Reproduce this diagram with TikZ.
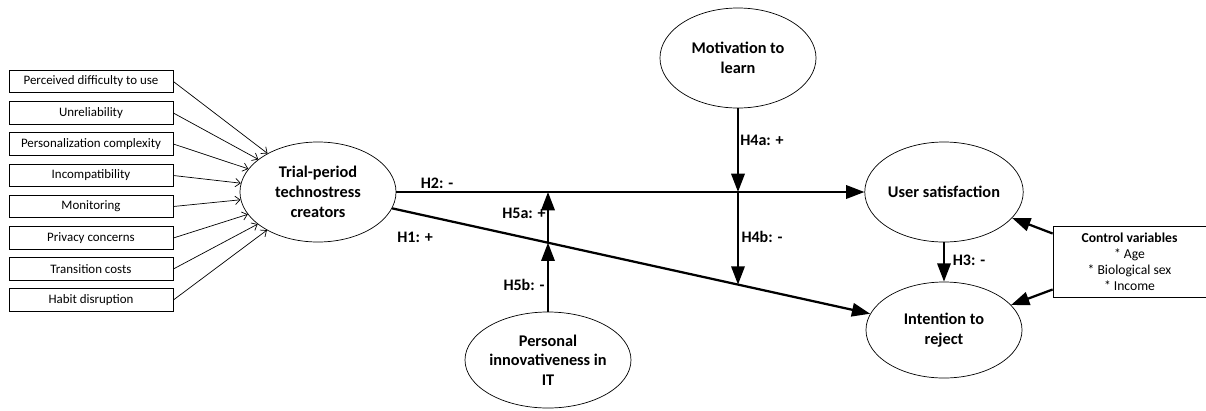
\documentclass[tikz,border=0pt]{standalone}
\usepackage{fontspec}
\setmainfont{Carlito}
\usetikzlibrary{arrows.meta,shapes.geometric}

\tikzset{
	factor/.style={shape=rectangle,draw=black,line width=0.5pt,minimum width=4.1cm,minimum height=0.56cm,inner sep=0pt,font=\fontsize{9.2}{10}\selectfont},
	construct/.style={shape=ellipse,draw=black,line width=0.5pt,minimum width=3.9cm,minimum height=2.5cm,inner sep=0pt,align=center,font=\fontsize{11.6}{14}\selectfont\bfseries},
	thin/.style={line width=0.5pt,-{Straight Barb[length=3.5pt,width=6pt]}},
	path/.style={line width=1.6pt,-{Triangle[length=13pt,width=9.5pt]}},
	hyp/.style={font=\fontsize{11.4}{12}\selectfont\bfseries,inner sep=0pt}
}

\begin{document}
\begin{tikzpicture}[x=0.025cm,y=-0.025cm]
		\useasboundingbox (0,0) rectangle (1206,410);
		% antecedents
		\node [factor] (F1) at (91,81.5) {Perceived difficulty to use};
		\node [factor] (F2) at (91,113) {Unreliability};
		\node [factor] (F3) at (91,144) {Personalization complexity};
		\node [factor] (F4) at (91,175.5) {Incompatibility};
		\node [factor] (F5) at (91,206.5) {Monitoring};
		\node [factor] (F6) at (91,238) {Privacy concerns};
		\node [factor] (F7) at (91,269) {Transition costs};
		\node [factor] (F8) at (91,300) {Habit disruption};
		% constructs
		\node [construct] (TP) at (318,192) {Trial-period\\technostress\\creators};
		\node [construct] (US) at (944,192) {User satisfaction};
		\node [construct,minimum height=2.4cm] (IR) at (944,330) {Intention to\\reject};
		\node [construct] (ML) at (738,58) {Motivation to\\learn};
		\node [construct,minimum width=4cm,minimum height=2.4cm] (PI) at (548,360) {Personal\\innovativeness in\\IT};
		\node [shape=rectangle,draw=black,line width=0.5pt,minimum width=3.825cm,minimum height=1.775cm,align=center,font=\fontsize{9.7}{11.4}\selectfont] (CV) at (1129.5,261.5) {\textbf{Control variables}\\* Age\\* Biological sex\\* Income};
		\draw [thin] (F1.east) -- (TP);
		\draw [thin] (F2.east) -- (TP);
		\draw [thin] (F3.east) -- (TP);
		\draw [thin] (F4.east) -- (TP);
		\draw [thin] (F5.east) -- (TP);
		\draw [thin] (F6.east) -- (TP);
		\draw [thin] (F7.east) -- (TP);
		\draw [thin] (F8.east) -- (TP);
		% main paths
		\draw [path] (TP) -- (US);
		\draw [path] (TP) -- (IR);
		\draw [path] (US) -- (IR);
		\draw [path] (CV.160) -- (US);
		\draw [path] (CV.200) -- (IR);
		% moderators
		\coordinate (M1) at (738,192);
		\coordinate (M2) at (738,284.6);
		\coordinate (M3) at (548,242.7);
		\coordinate (M4) at (548,192);
		\draw [path] (ML) -- (M1);
		\draw [path] (M1) -- (M2);
		\draw [path] (PI) -- (M3);
		\draw [path] (M3) -- (M4);
		% labels
		\node [hyp] (H1) at (415,237) {H1: +};
		\node [hyp] (H2) at (437,183) {H2: -};
		\node [hyp] (H3) at (969,260) {H3: -};
		\node [hyp] (H4a) at (762,140) {H4a: +};
		\node [hyp] (H4b) at (762,237) {H4b: -};
		\node [hyp] (H5a) at (524,213) {H5a: +};
		\node [hyp] (H5b) at (524,285) {H5b: -};
	\end{tikzpicture}
\end{document}
